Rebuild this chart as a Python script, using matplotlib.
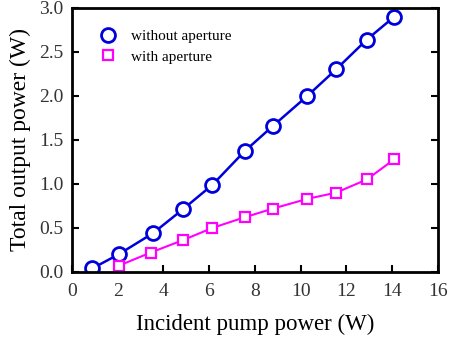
import matplotlib
matplotlib.use("Agg")
from matplotlib import pyplot as plt

# incident pump power (W) and total output power (W)
pump_without = [0.9, 2.05, 3.55, 4.85, 6.15, 7.55, 8.8, 10.3, 11.55, 12.9, 14.1]
power_without = [0.04, 0.20, 0.44, 0.71, 0.99, 1.37, 1.66, 2.00, 2.30, 2.64, 2.90]

pump_with = [2.05, 3.45, 4.85, 6.15, 7.55, 8.8, 10.3, 11.55, 12.9, 14.1]
power_with = [0.07, 0.22, 0.36, 0.50, 0.62, 0.72, 0.83, 0.90, 1.05, 1.28]

plt.rcParams['font.family'] = ['Liberation Serif', 'DejaVu Serif']

fig = plt.figure(figsize=(4.49, 3.42), dpi=100)
ax = fig.add_axes([0.16, 0.205, 0.815, 0.772])

ax.plot(pump_without, power_without, color='#0000dd', lw=1.8,
        marker='o', ms=10, mfc='white', mec='#0000dd', mew=2)
ax.plot(pump_with, power_with, color='#ff00ff', lw=1.5,
        marker='s', ms=7.5, mfc='white', mec='#ff00ff', mew=1.6)

# legend: markers only
ax.plot([], [], ls='none', marker='o', ms=10, mfc='white', mec='#0000dd', mew=2,
        label='without aperture')
ax.plot([], [], ls='none', marker='s', ms=7.5, mfc='white', mec='#ff00ff', mew=1.6,
        label='with aperture')
handles, labels = ax.get_legend_handles_labels()
ax.legend(handles[-2:], labels[-2:], loc='upper left', frameon=False,
          fontsize=11, handletextpad=0.5, labelspacing=0.45,
          bbox_to_anchor=(0.02, 0.97))

ax.set_xlim(0, 16)
ax.set_ylim(0, 3.0)
ax.set_xticks(range(0, 17, 2))
ax.set_yticks([0.0, 0.5, 1.0, 1.5, 2.0, 2.5, 3.0])
ax.set_yticklabels(['%.1f' % v for v in ax.get_yticks()])

ax.tick_params(direction='in', length=5, width=1.5, labelsize=14,
               right=True, top=False, colors='black', labelcolor='#333333')
ax.tick_params(axis='x', pad=8)
ax.tick_params(axis='y', pad=6)
for s in ax.spines.values():
    s.set_linewidth(2)

ax.set_xlabel('Incident pump power (W)', fontsize=16.5, labelpad=10)
ax.set_ylabel('Total output power (W)', fontsize=17, labelpad=6)

fig.savefig('out.png', dpi=100)
